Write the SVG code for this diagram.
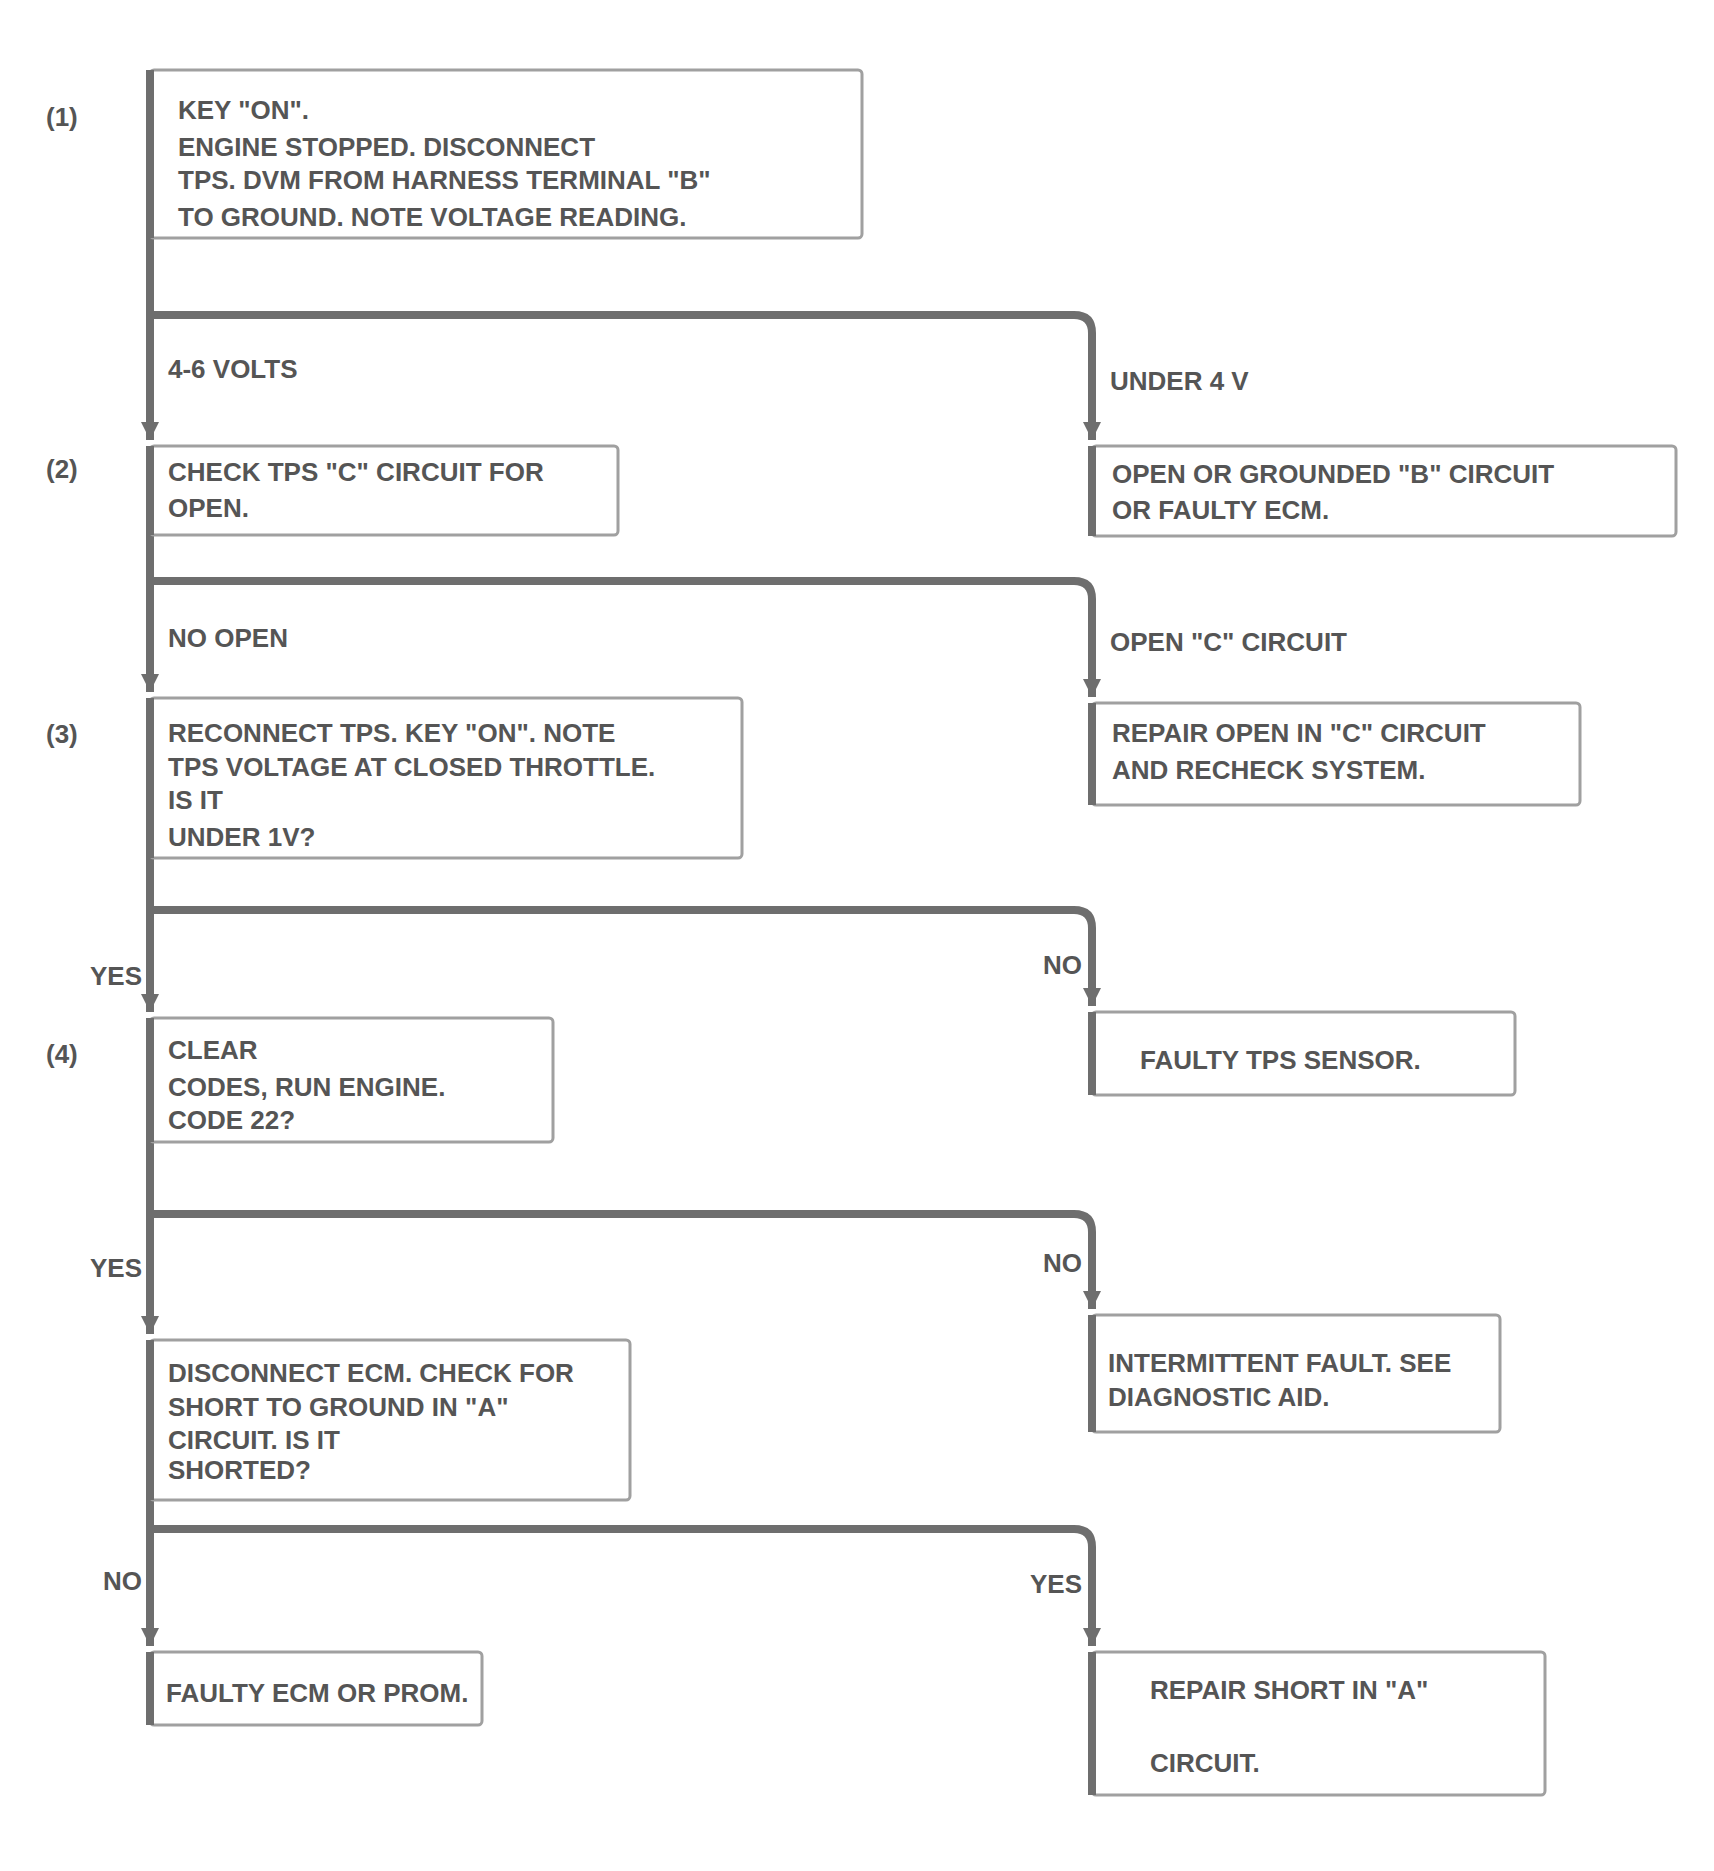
<svg xmlns="http://www.w3.org/2000/svg" width="1714" height="1871" viewBox="0 0 1714 1871">
<style>
  .box{fill:#ffffff;stroke:#a0a0a0;stroke-width:3}
  .rail{stroke:#6e6e6e;stroke-width:8}
  .t{font-family:"Liberation Sans",Arial,sans-serif;font-size:26px;font-weight:bold;fill:#555555}
  .c{fill:none;stroke:#6e6e6e;stroke-width:8;stroke-linejoin:round}
</style>
<defs>
  <marker id="arr" markerUnits="userSpaceOnUse" markerWidth="22" markerHeight="22" viewBox="0 0 22 22" refX="20" refY="11" orient="auto">
    <path d="M2 2 L20 11 L2 20 Z" fill="#6e6e6e"/>
  </marker>
</defs>
<rect width="1714" height="1871" fill="#ffffff"/>

<g id="connectors">
  <path class="c" d="M150 238 V440" marker-end="url(#arr)"/>
  <path class="c" d="M150 535 V692" marker-end="url(#arr)"/>
  <path class="c" d="M150 858 V1012" marker-end="url(#arr)"/>
  <path class="c" d="M150 1142 V1334" marker-end="url(#arr)"/>
  <path class="c" d="M150 1500 V1646" marker-end="url(#arr)"/>
  <path class="c" d="M150 315 H1074 Q1092 315 1092 333 V440" marker-end="url(#arr)"/>
  <path class="c" d="M150 581 H1074 Q1092 581 1092 599 V697" marker-end="url(#arr)"/>
  <path class="c" d="M150 910 H1074 Q1092 910 1092 928 V1006" marker-end="url(#arr)"/>
  <path class="c" d="M150 1214 H1074 Q1092 1214 1092 1232 V1309" marker-end="url(#arr)"/>
  <path class="c" d="M150 1529 H1074 Q1092 1529 1092 1547 V1646" marker-end="url(#arr)"/>
</g>

<g id="labels">
  <text class="t" x="168" y="378">4-6 VOLTS</text>
  <text class="t" x="1110" y="390">UNDER 4 V</text>
  <text class="t" x="168" y="647">NO OPEN</text>
  <text class="t" x="1110" y="651">OPEN "C" CIRCUIT</text>
  <text class="t" x="142" y="985" text-anchor="end">YES</text>
  <text class="t" x="1082" y="974" text-anchor="end">NO</text>
  <text class="t" x="142" y="1277" text-anchor="end">YES</text>
  <text class="t" x="1082" y="1272" text-anchor="end">NO</text>
  <text class="t" x="142" y="1590" text-anchor="end">NO</text>
  <text class="t" x="1082" y="1593" text-anchor="end">YES</text>
</g>

<g id="n1">
  <text class="t" x="46" y="126">(1)</text>
  <rect class="box" x="150" y="70" width="712" height="168" rx="4"/>
  <line class="rail" x1="150" y1="70" x2="150" y2="238"/>
  <text class="t" x="178" y="119">KEY "ON".</text>
  <text class="t" x="178" y="156">ENGINE STOPPED. DISCONNECT</text>
  <text class="t" x="178" y="189">TPS. DVM FROM HARNESS TERMINAL "B"</text>
  <text class="t" x="178" y="226">TO GROUND. NOTE VOLTAGE READING.</text>
</g>

<g id="n2">
  <text class="t" x="46" y="478">(2)</text>
  <rect class="box" x="150" y="446" width="468" height="89" rx="4"/>
  <line class="rail" x1="150" y1="446" x2="150" y2="535"/>
  <text class="t" x="168" y="481">CHECK TPS "C" CIRCUIT FOR</text>
  <text class="t" x="168" y="517">OPEN.</text>
</g>

<g id="n2r">
  <rect class="box" x="1092" y="446" width="584" height="90" rx="4"/>
  <line class="rail" x1="1092" y1="446" x2="1092" y2="536"/>
  <text class="t" x="1112" y="483">OPEN OR GROUNDED "B" CIRCUIT</text>
  <text class="t" x="1112" y="519">OR FAULTY ECM.</text>
</g>

<g id="n3">
  <text class="t" x="46" y="743">(3)</text>
  <rect class="box" x="150" y="698" width="592" height="160" rx="4"/>
  <line class="rail" x1="150" y1="698" x2="150" y2="858"/>
  <text class="t" x="168" y="742">RECONNECT TPS. KEY "ON". NOTE</text>
  <text class="t" x="168" y="776">TPS VOLTAGE AT CLOSED THROTTLE.</text>
  <text class="t" x="168" y="809">IS IT</text>
  <text class="t" x="168" y="846">UNDER 1V?</text>
</g>

<g id="n3r">
  <rect class="box" x="1092" y="703" width="488" height="102" rx="4"/>
  <line class="rail" x1="1092" y1="703" x2="1092" y2="805"/>
  <text class="t" x="1112" y="742">REPAIR OPEN IN "C" CIRCUIT</text>
  <text class="t" x="1112" y="779">AND RECHECK SYSTEM.</text>
</g>

<g id="n4">
  <text class="t" x="46" y="1063">(4)</text>
  <rect class="box" x="150" y="1018" width="403" height="124" rx="4"/>
  <line class="rail" x1="150" y1="1018" x2="150" y2="1142"/>
  <text class="t" x="168" y="1059">CLEAR</text>
  <text class="t" x="168" y="1096">CODES, RUN ENGINE.</text>
  <text class="t" x="168" y="1129">CODE 22?</text>
</g>

<g id="n4r">
  <rect class="box" x="1092" y="1012" width="423" height="83" rx="4"/>
  <line class="rail" x1="1092" y1="1012" x2="1092" y2="1095"/>
  <text class="t" x="1140" y="1069">FAULTY TPS SENSOR.</text>
</g>

<g id="n5">
  <rect class="box" x="150" y="1340" width="480" height="160" rx="4"/>
  <line class="rail" x1="150" y1="1340" x2="150" y2="1500"/>
  <text class="t" x="168" y="1382">DISCONNECT ECM. CHECK FOR</text>
  <text class="t" x="168" y="1416">SHORT TO GROUND IN "A"</text>
  <text class="t" x="168" y="1449">CIRCUIT. IS IT</text>
  <text class="t" x="168" y="1479">SHORTED?</text>
</g>

<g id="n5r">
  <rect class="box" x="1092" y="1315" width="408" height="117" rx="4"/>
  <line class="rail" x1="1092" y1="1315" x2="1092" y2="1432"/>
  <text class="t" x="1108" y="1372">INTERMITTENT FAULT. SEE</text>
  <text class="t" x="1108" y="1406">DIAGNOSTIC AID.</text>
</g>

<g id="n6">
  <rect class="box" x="150" y="1652" width="332" height="73" rx="4"/>
  <line class="rail" x1="150" y1="1652" x2="150" y2="1725"/>
  <text class="t" x="166" y="1702">FAULTY ECM OR PROM.</text>
</g>

<g id="n6r">
  <rect class="box" x="1092" y="1652" width="453" height="143" rx="4"/>
  <line class="rail" x1="1092" y1="1652" x2="1092" y2="1795"/>
  <text class="t" x="1150" y="1699">REPAIR SHORT IN "A"</text>
  <text class="t" x="1150" y="1772">CIRCUIT.</text>
</g>
</svg>
